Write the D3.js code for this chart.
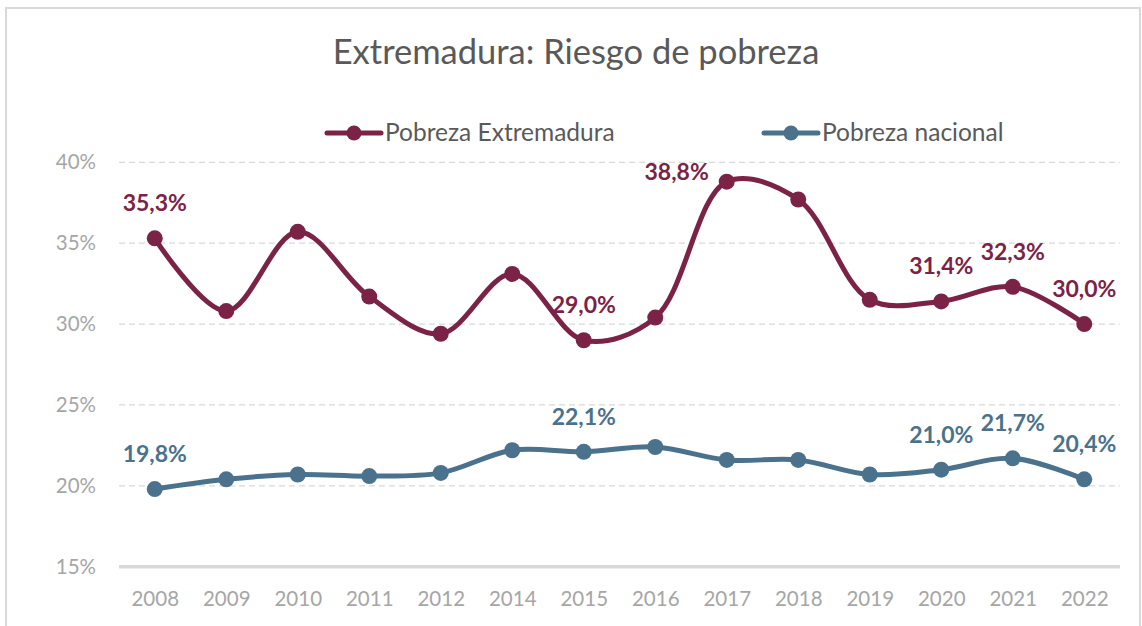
<!DOCTYPE html>
<html>
<head>
<meta charset="utf-8">
<script src="https://cdn.jsdelivr.net/npm/d3@7"></script>
<style>
  body { margin: 0; background: #fff; }
  svg { display: block; font-family: Lato, "Open Sans", sans-serif; }
</style>
</head>
<body>
<div id="chart-area"></div>
<script>
const years = ["2008","2009","2010","2011","2012","2014","2015","2016","2017","2018","2019","2020","2021","2022"];
const pobrezaExtremadura = [35.3, 30.8, 35.7, 31.7, 29.4, 33.1, 29.0, 30.4, 38.8, 37.7, 31.5, 31.4, 32.3, 30.0];
const pobrezaNacional = [19.8, 20.4, 20.7, 20.6, 20.8, 22.2, 22.1, 22.4, 21.6, 21.6, 20.7, 21.0, 21.7, 20.4];
const yTicks = [15, 20, 25, 30, 35, 40];
const extLabelYears = ["2008","2015","2017","2020","2021","2022"];
const nacLabelYears = ["2008","2015","2020","2021","2022"];
const seriesNames = ["Pobreza Extremadura", "Pobreza nacional"];

const width = 1142, height = 626;
const colorExt = "#7b2346", colorNac = "#4b728c";

const es = d3.formatLocale({ decimal: ",", thousands: ".", grouping: [3], currency: ["", "€"] });
const fmt = v => es.format(".1f")(v) + "%";

const svg = d3.select("#chart-area")
    .append("svg")
    .attr("width", width)
    .attr("height", height);

// outer frame
svg.append("rect")
    .attr("x", 6).attr("y", 8)
    .attr("width", 1134).attr("height", 640)
    .attr("fill", "#fff")
    .attr("stroke", "#d9d9d9")
    .attr("stroke-width", 2);

const x = d3.scalePoint()
    .domain(years)
    .range([119, 1120])
    .padding(0.5);

const y = d3.scaleLinear()
    .domain([15, 40])
    .range([566.7, 162.3]);

// title
svg.append("text")
    .attr("x", 576).attr("y", 64)
    .attr("text-anchor", "middle")
    .attr("font-size", "34.5px")
    .attr("fill", "#595959")
    .text("Extremadura: Riesgo de pobreza");

// gridlines
svg.append("g")
    .selectAll("line")
    .data(yTicks.filter(t => t > 15))
    .join("line")
    .attr("x1", 119).attr("x2", 1120)
    .attr("y1", d => y(d)).attr("y2", d => y(d))
    .attr("stroke", "#d9d9d9")
    .attr("stroke-width", 1.3)
    .attr("stroke-dasharray", "6,4");

// y axis labels
const yAxis = d3.axisLeft(y).tickValues(yTicks).tickSize(0).tickPadding(0)
    .tickFormat(d => d + "%");
svg.append("g")
    .attr("transform", "translate(96,0)")
    .call(yAxis)
    .call(g => g.select(".domain").remove())
    .selectAll("text")
    .attr("font-family", "Lato, sans-serif")
    .attr("font-size", "20.5px")
    .attr("fill", "#a6a6a6");

// x axis
const xAxis = d3.axisBottom(x).tickSize(0).tickPadding(0);
svg.append("g")
    .attr("transform", `translate(0,${y(15)})`)
    .call(xAxis)
    .call(g => g.select(".domain").remove())
    .selectAll("text")
    .attr("dy", null)
    .attr("y", 39)
    .attr("font-family", "Lato, sans-serif")
    .attr("font-size", "20.5px")
    .attr("fill", "#a6a6a6");

svg.append("line")
    .attr("x1", 119).attr("x2", 1120)
    .attr("y1", y(15)).attr("y2", y(15))
    .attr("stroke", "#d9d9d9")
    .attr("stroke-width", 3.5);

const line = d3.line()
    .x((d, i) => x(years[i]))
    .y(d => y(d))
    .curve(d3.curveCatmullRom.alpha(0.5));

function drawSeries(values, color, labelYears) {
    const g = svg.append("g");
    g.append("path")
        .datum(values)
        .attr("d", line)
        .attr("fill", "none")
        .attr("stroke", color)
        .attr("stroke-width", 5)
        .attr("stroke-linecap", "round");
    g.selectAll("circle")
        .data(values)
        .join("circle")
        .attr("cx", (d, i) => x(years[i]))
        .attr("cy", d => y(d))
        .attr("r", 8)
        .attr("fill", color);
    g.selectAll("text")
        .data(values.map((v, i) => ({ v, year: years[i] })).filter(d => labelYears.includes(d.year)))
        .join("text")
        .attr("x", d => d.year === "2017" && color === colorExt ? x(d.year) - 18 : x(d.year))
        .attr("y", d => d.year === "2017" && color === colorExt ? y(d.v) - 2 : y(d.v) - 27)
        .attr("text-anchor", d => d.year === "2017" && color === colorExt ? "end" : "middle")
        .attr("font-size", "23px")
        .attr("font-weight", "bold")
        .attr("fill", color)
        .text(d => fmt(d.v));
}

drawSeries(pobrezaExtremadura, colorExt, extLabelYears);
drawSeries(pobrezaNacional, colorNac, nacLabelYears);

// legend
const legend = svg.append("g");
const legendItems = [
    { name: seriesNames[0], color: colorExt, x: 327 },
    { name: seriesNames[1], color: colorNac, x: 764 }
];
legendItems.forEach(item => {
    const lg = legend.append("g").attr("transform", `translate(${item.x},133)`);
    lg.append("line")
        .attr("x1", 0).attr("x2", 54)
        .attr("stroke", item.color)
        .attr("stroke-width", 5)
        .attr("stroke-linecap", "round");
    lg.append("circle")
        .attr("cx", 27).attr("r", 7.5)
        .attr("fill", item.color);
    lg.append("text")
        .attr("x", 58).attr("y", 8)
        .attr("font-size", "24.5px")
        .attr("fill", "#595959")
        .text(item.name);
});
</script>
</body>
</html>
